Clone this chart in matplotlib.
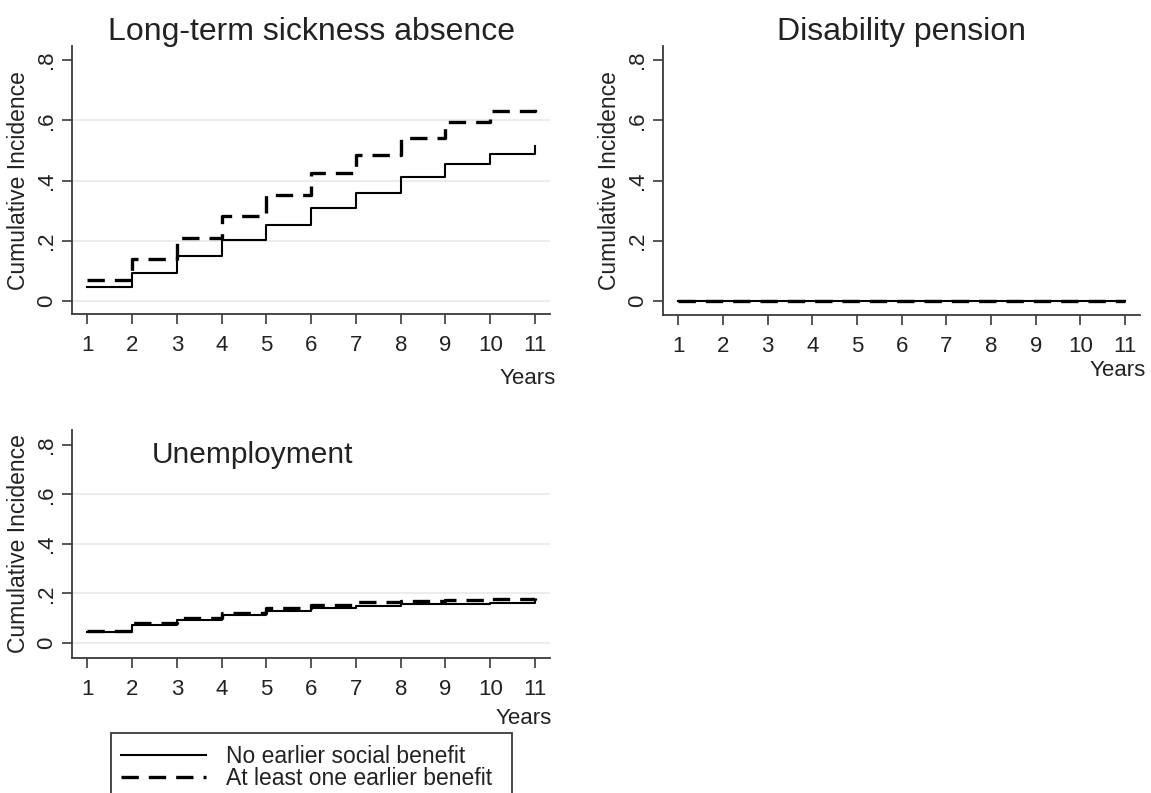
import numpy as np
import matplotlib
matplotlib.use("Agg")
import matplotlib.pyplot as plt
from matplotlib.patches import Rectangle

plt.rcParams['font.family'] = ['Liberation Sans', 'DejaVu Sans']

years = [1, 2, 3, 4, 5, 6, 7, 8, 9, 10, 11]

# long-term sickness absence
sick_none = [0.048, 0.095, 0.150, 0.202, 0.254, 0.310, 0.359, 0.412, 0.456, 0.488, 0.515]
sick_prior = [0.072, 0.139, 0.211, 0.284, 0.353, 0.425, 0.486, 0.543, 0.594, 0.632, 0.657]

# disability pension
dis_none = [0, 0, 0, 0, 0, 0, 0, 0, 0, 0, 0]
dis_prior = [0, 0, 0, 0, 0, 0, 0, 0, 0, 0, 0]

# unemployment
unemp_none = [0.043, 0.073, 0.092, 0.111, 0.128, 0.142, 0.150, 0.155, 0.158, 0.162, 0.165]
unemp_prior = [0.049, 0.081, 0.100, 0.121, 0.139, 0.152, 0.163, 0.168, 0.172, 0.176, 0.180]

yticks = [0, 0.2, 0.4, 0.6, 0.8]
ytick_labels = ['0', '.2', '.4', '.6', '.8']
legend_labels = ['No earlier social benefit', 'At least one earlier benefit']

W, H = 1151, 793
fig = plt.figure(figsize=(W / 100, H / 100), dpi=100)

def px(x, y):
    return x / W, 1 - y / H

def make_axes(left, right, top, bottom):
    return fig.add_axes([left / W, 1 - bottom / H, (right - left) / W, (bottom - top) / H])

txt = '#222222'
axcol = '#3a3a3a'
solid_lw = 1.5
dash_lw = 2.4
dash_style = (0, (5.2, 3.0))

def style(ax, ylim, grid):
    ax.set_xlim(0.665, 11.335)
    ax.set_ylim(*ylim)
    for s in ['top', 'right']:
        ax.spines[s].set_visible(False)
    for s in ['left', 'bottom']:
        ax.spines[s].set_color(axcol)
        ax.spines[s].set_linewidth(1.3)
    ax.set_xticks(years)
    ax.set_yticks(yticks)
    ax.set_yticklabels(ytick_labels, rotation=90, va='center')
    ax.tick_params(axis='both', colors=axcol, labelcolor=txt, labelsize=16,
                   length=7, width=1.2)
    ax.tick_params(axis='x', pad=8)
    ax.tick_params(axis='y', pad=4)
    if grid:
        for v in yticks[:-1]:
            ax.axhline(v, color='#ebebeb', lw=1.3, zorder=0)
    ax.set_ylabel('Cumulative Incidence', fontsize=16.5, color=txt, labelpad=4)

def draw(ax, none, prior):
    h1, = ax.step(years, none, where='post', color='black', lw=solid_lw, zorder=3)
    h2, = ax.step(years, prior, where='post', color='black', lw=dash_lw,
                  linestyle=dash_style, zorder=2)
    return h1, h2

ax1 = make_axes(72.3, 550, 46, 314.3)
style(ax1, (-0.0433, 0.8465), True)
h1, h2 = draw(ax1, sick_none, sick_prior)

ax2 = make_axes(663.3, 1140, 46, 315)
style(ax2, (-0.0465, 0.8465), False)
draw(ax2, dis_none, dis_prior)

ax3 = make_axes(72.3, 550, 430, 657.7)
style(ax3, (-0.0607, 0.861), True)
draw(ax3, unemp_none, unemp_prior)

fig.text(*px(311, 40), 'Long-term sickness absence', fontsize=23, color=txt,
         ha='center', va='baseline')
fig.text(*px(901.5, 40), 'Disability pension', fontsize=23, color=txt,
         ha='center', va='baseline')
fig.text(*px(152, 463), 'Unemployment', fontsize=21.5, color=txt,
         ha='left', va='baseline')

fig.text(*px(556, 378), 'Years', fontsize=16, color=txt, ha='right', va='center')
fig.text(*px(1146, 370), 'Years', fontsize=16, color=txt, ha='right', va='center')
fig.text(*px(552, 719), 'Years', fontsize=16, color=txt, ha='right', va='center')

# legend frame, cut by the bottom edge like the original
x0, y0 = px(111, 733.3)
fig.patches.append(Rectangle((x0, y0 - 0.2), (512 - 111) / W, 0.2, transform=fig.transFigure,
                             fill=False, edgecolor=axcol, lw=1.3))
fig.legend([h1, h2], legend_labels, loc='upper left', bbox_to_anchor=px(121, 745),
           frameon=False, fontsize=16.5, handlelength=3.7, handletextpad=0.9,
           borderpad=0, borderaxespad=0, labelspacing=-0.05, labelcolor=txt)

fig.savefig('out.png', dpi=100)
